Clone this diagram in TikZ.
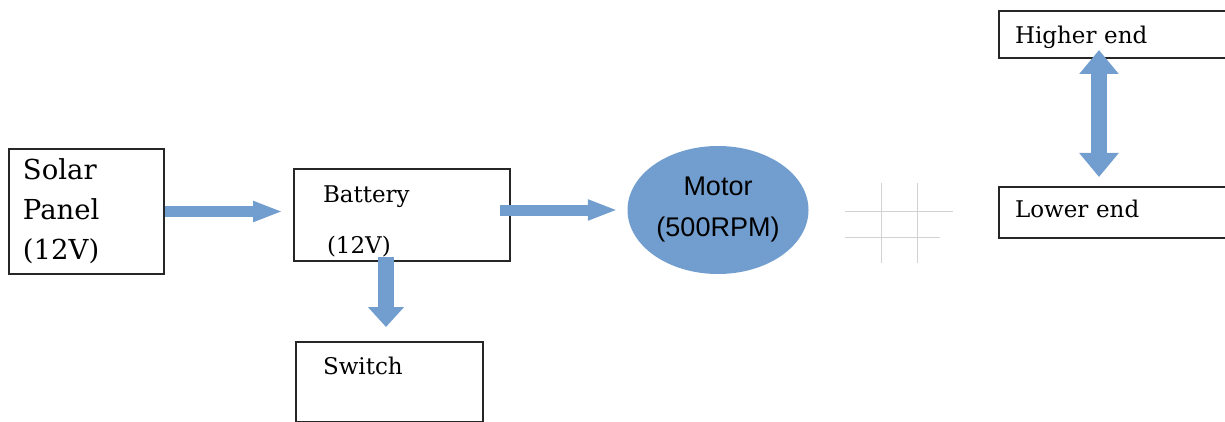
\documentclass[tikz,border=0pt]{standalone}
\usepackage{fontspec}
\setmainfont{DejaVu Serif}
\newfontfamily\motorfont{Liberation Sans}
\usetikzlibrary{arrows.meta,shapes.geometric}
\definecolor{flowblue}{RGB}{114,158,207}
\begin{document}
\begin{tikzpicture}[x=1pt,y=-1pt,
    box/.style={draw=black!85, line width=2pt, inner ysep=0pt, align=left, anchor=north west},
    flow/.style={draw=flowblue, line width=11pt, -{Triangle[length=30pt,width=19pt]}},
    wideflow/.style={draw=flowblue, line width=16pt}]
  \useasboundingbox (0,0) rectangle (1225,422);
  \node[box, inner xsep=14pt, text width=127pt, text height=30pt, text depth=95pt, font=\fontsize{27.5}{40}\selectfont] (solar) at (8,148) {Solar\\Panel\\(12V)};
  \node[box, inner xsep=29pt, text width=158pt, text height=34pt, text depth=58pt, font=\fontsize{23}{51}\selectfont] (battery) at (293,168) {Battery\\\hspace*{4pt}(12V)};
  \node[box, inner xsep=27pt, text width=133pt, text height=32pt, text depth=48pt, font=\fontsize{23}{28}\selectfont] (switch) at (295,341) {Switch};
  \node[ellipse, fill=flowblue, minimum width=181pt, minimum height=128pt, inner sep=0pt, align=center, font=\motorfont\fontsize{27}{41}\selectfont] (motor) at (718,210) {Motor\\(500RPM)};
  \node[box, inner xsep=16pt, text width=205pt, text height=33pt, text depth=14pt, font=\fontsize{23}{28}\selectfont] (higher) at (998,10) {Higher end};
  \node[box, inner xsep=16pt, text width=205pt, text height=30pt, text depth=21pt, font=\fontsize{23}{28}\selectfont] (lower) at (998,186) {Lower end};
  \draw[flow, shorten >=10pt] (solar.east) -- (solar.east -| battery.west);
  \draw[flow, shorten <=-11pt, shorten >=9.5pt] (battery.east |- motor.west) -- (motor.west);
  \draw[wideflow, -{Triangle[length=20pt,width=35pt]}, shorten <=-5pt, shorten >=14pt] ([xshift=-16pt]battery.south) -- ([xshift=-16pt]battery.south |- switch.north);
  \draw[wideflow, {Triangle[length=24pt,width=38pt]}-{Triangle[length=24pt,width=38pt]}, shorten <=-9pt, shorten >=9pt] ([xshift=101pt]higher.south west) -- ([xshift=101pt]higher.south west |- lower.north);
  \foreach \x in {881,917}
    \draw[gray!35, line width=0.8pt] (\x,183) -- (\x,263);
  \draw[gray!35, line width=0.8pt] (845,211) -- (953,211) (845,237) -- (940,237);
\end{tikzpicture}
\end{document}
